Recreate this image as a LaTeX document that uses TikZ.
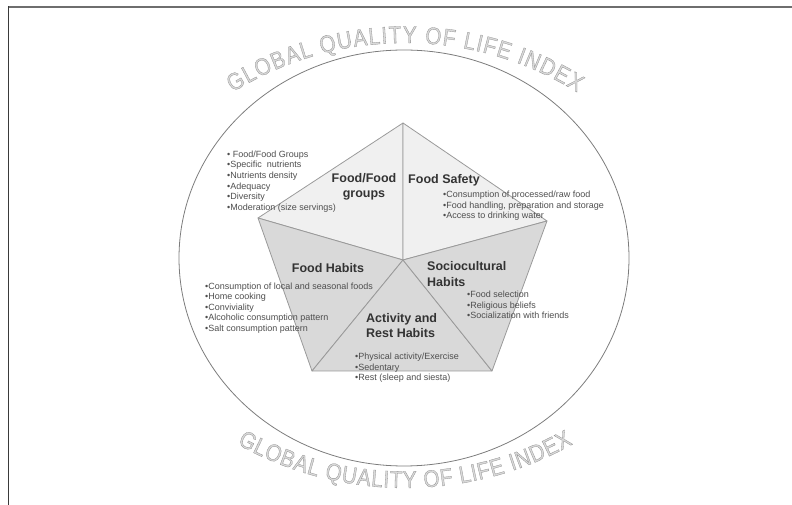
\documentclass[tikz,border=0pt]{standalone}
\usepackage{fontspec}
\setmainfont{Liberation Sans}
\newfontfamily\arcfamily[FakeStretch=0.86, FakeBold=1.2]{Liberation Sans}
\usetikzlibrary{decorations.text}

\definecolor{framegray}{HTML}{6E6E6E}
\definecolor{framedark}{HTML}{3A3A3A}
\definecolor{ringgray}{HTML}{7C7C7C}
\definecolor{edgegray}{HTML}{9A9A9A}
\definecolor{lightsector}{HTML}{F0F0F0}
\definecolor{darksector}{HTML}{D9D9D9}
\definecolor{arcfill}{HTML}{DADADA}
\definecolor{titlegray}{HTML}{333333}
\definecolor{listgray}{HTML}{4E4E4E}

% light letters with a darker outline for the curved headings
\newcommand{\arcstyle}{\arcfamily\fontsize{24}{24}\selectfont\color{arcfill}\special{pdf:code 0.55 G}}

\tikzset{
  sectorlight/.style={fill=lightsector, draw=edgegray, line width=0.8pt, line join=round},
  sectordark/.style={fill=darksector, draw=edgegray, line width=0.8pt, line join=round},
  ring/.style={draw=ringgray, line width=0.8pt},
  title/.style={font=\bfseries\fontsize{12.5}{15.5}\selectfont, text=titlegray, inner sep=0pt},
  itemlist/.style={font=\fontsize{9}{10.6}\selectfont, text=listgray, inner sep=0pt, align=left, anchor=west},
  arclabel/.style={decorate, decoration={text along path,
      text={|\arcstyle|GLOBAL QUALITY OF LIFE INDEX},
      text align={fit to path}}}
}

\begin{document}
\begin{tikzpicture}[x=1pt, y=1pt]
  \useasboundingbox (0,0) rectangle (792,505);

  % page frame: top rule and left rule
  \draw[framegray, line width=2pt] (8,497.5) -- (792,497.5);
  \draw[framedark, line width=1.5pt] (8.5,498.5) -- (8.5,0);

  % outer ring
  \draw[ring] (404,247) ellipse [x radius=225pt, y radius=208pt];

  % pentagon corners and centre
  \coordinate (T)  at (403,382);
  \coordinate (UL) at (258,287);
  \coordinate (UR) at (547,284);
  \coordinate (LL) at (312,134);
  \coordinate (LR) at (492,134);
  \coordinate (C)  at (403,245);

  % five sectors
  \filldraw[sectorlight] (T) -- (UL) -- (C) -- cycle;
  \filldraw[sectorlight] (T) -- (C) -- (UR) -- cycle;
  \filldraw[sectordark] (UL) -- (LL) -- (C) -- cycle;
  \filldraw[sectordark] (LL) -- (LR) -- (C) -- cycle;
  \filldraw[sectordark] (LR) -- (UR) -- (C) -- cycle;

  % curved headings above and below the ring
  \path[arclabel] (405,137) ++(122:325pt) arc [start angle=122, end angle=58, radius=325pt];
  \path[arclabel] (405,360) ++(240.7:343pt) arc [start angle=240.7, end angle=299.3, radius=343pt];

  % sector titles
  \node[title, align=center] (tgroups) at (364,318) {Food/Food\\groups};
  \node[title] (tsafety) at (444,325) {Food Safety};
  \node[title] (thabits) at (328,237) {Food Habits};
  \node[title, align=left, anchor=west] (tsocio) at (427,231) {Sociocultural\\Habits};
  \node[title, align=left, anchor=west] (trest) at (366,179.5) {Activity and\\Rest Habits};

  % item lists
  \node[itemlist] (lgroups) at (227,323.5) {• Food/Food Groups\\•Specific\ \ nutrients\\•Nutrients density\\•Adequacy\\•Diversity\\•Moderation (size servings)};
  \node[itemlist] (lsafety) at (443,299) {•Consumption of processed/raw food\\•Food handling, preparation and storage\\•Access to drinking water};
  \node[itemlist] (lhabits) at (205,197) {•Consumption of local and seasonal foods\\•Home cooking\\•Conviviality\\•Alcoholic consumption pattern\\•Salt consumption pattern};
  \node[itemlist] (lsocio) at (467,200) {•Food selection\\•Religious beliefs\\•Socialization with friends};
  \node[itemlist] (lrest) at (355,137) {•Physical activity/Exercise\\•Sedentary\\•Rest (sleep and siesta)};
\end{tikzpicture}
\end{document}
